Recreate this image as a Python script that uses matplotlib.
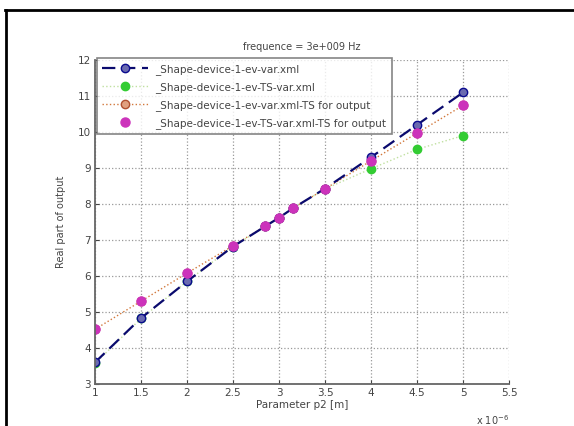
import matplotlib
matplotlib.use("Agg")
import matplotlib.pyplot as plt
from matplotlib.lines import Line2D

x = [1, 1.5, 2, 2.5, 2.85, 3, 3.15, 3.5, 4, 4.5, 5]
s_ev = [3.6, 4.83, 5.85, 6.82, 7.38, 7.62, 7.88, 8.43, 9.3, 10.2, 11.1]
s_ev_ts = [3.57, 4.82, 5.85, 6.82, 7.38, 7.62, 7.88, 8.42, 8.98, 9.52, 9.9]
s_ev_tsout = [4.52, 5.3, 6.08, 6.84, 7.39, 7.62, 7.88, 8.42, 9.2, 9.97, 10.74]
s_ev_ts_tsout = [4.52, 5.3, 6.08, 6.84, 7.39, 7.62, 7.88, 8.42, 9.2, 9.97, 10.74]
labels = ["_Shape-device-1-ev-var.xml",
          "_Shape-device-1-ev-TS-var.xml",
          "_Shape-device-1-ev-var.xml-TS for output",
          "_Shape-device-1-ev-TS-var.xml-TS for output"]
xticks = [1, 1.5, 2, 2.5, 3, 3.5, 4, 4.5, 5, 5.5]
xticklabels = ["1", "1.5", "2", "2.5", "3", "3.5", "4", "4.5", "5", "5.5"]
yticks = [3, 4, 5, 6, 7, 8, 9, 10, 11, 12]

plt.rcParams['font.family'] = ['DejaVu Sans']
fig = plt.figure(figsize=(5.74, 4.26), dpi=100)
ax = fig.add_axes([0.1655, 0.0986, 0.7213, 0.7604])

h3, = ax.plot(x, s_ev_tsout, linestyle=':', color='#d2783c', marker='o', markersize=6,
              markerfacecolor='#e0a080', markeredgecolor='#b05030', linewidth=1)
h2, = ax.plot(x, s_ev_ts, linestyle=':', color='#c0e0a0', marker='o', markersize=6,
              markerfacecolor='#33cc33', markeredgecolor='#33cc33', linewidth=1)
h1, = ax.plot(x, s_ev, linestyle=(0, (6, 3)), color='#0a0a6e', marker='o', markersize=6,
              markerfacecolor='#6a6ab0', markeredgecolor='#0a0a8e', linewidth=1.6)
h4, = ax.plot(x, s_ev_ts_tsout, linestyle='none', marker='o', markersize=6.5,
              markerfacecolor='#cc33bb', markeredgecolor='#cc33bb')

ax.set_xlim(1, 5.5)
ax.set_ylim(3, 12)
ax.set_xticks(xticks)
ax.set_xticklabels(xticklabels)
ax.set_yticks(yticks)
ax.tick_params(direction='in', labelsize=7.5, length=3, colors='#444444', pad=3)
ax.grid(True, linestyle=':', color='#999999', linewidth=0.9)
for side in ['top', 'right']:
    ax.spines[side].set_visible(False)
for side in ['left', 'bottom']:
    ax.spines[side].set_color('#666666')
    ax.spines[side].set_linewidth(1.3)

ax.set_title("frequence = 3e+009 Hz", fontsize=7, color='#444444', pad=7)
ax.set_xlabel("Parameter p2 [m]", fontsize=7.5, color='#444444', labelpad=1)
ax.set_ylabel("Real part of output", fontsize=7, color='#444444', labelpad=8)
ax.text(1.0, -0.09, "x 10$^{-6}$", transform=ax.transAxes, fontsize=7,
        color='#444444', ha='right', va='top')

leg = ax.legend([h1, h2, h3, h4], labels, loc='upper left', fontsize=7.5,
                frameon=True, fancybox=False, borderaxespad=0.0,
                bbox_to_anchor=(0.005, 1.005),
                handlelength=4.4, labelspacing=0.68, borderpad=0.5,
                handletextpad=0.7)
leg.get_frame().set_edgecolor('#666666')
leg.get_frame().set_linewidth(1.2)
for t in leg.get_texts():
    t.set_color('#444444')

fig.add_artist(Line2D([5 / 574, 1.0], [1 - 10 / 426, 1 - 10 / 426],
                      transform=fig.transFigure, color='black', linewidth=2))
fig.add_artist(Line2D([6 / 574, 6 / 574], [0.0, 1 - 10 / 426],
                      transform=fig.transFigure, color='black', linewidth=2))

fig.savefig("out.png", dpi=100)
